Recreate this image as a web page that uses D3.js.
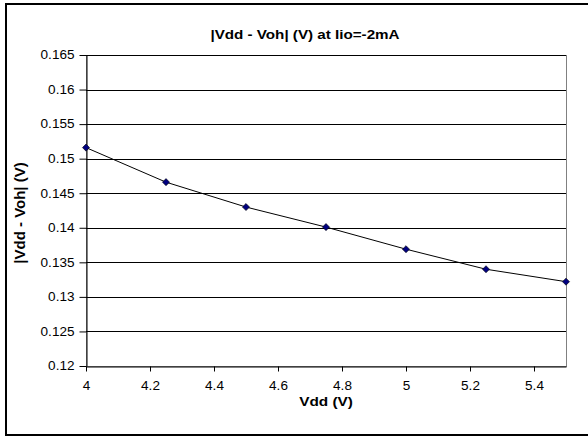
<!DOCTYPE html>
<html lang="en">
<head>
<meta charset="UTF-8">
<title>Vdd - Voh</title>
<script src="https://cdn.jsdelivr.net/npm/d3@7"></script>
<style>
  body { margin: 0; background: #fff; overflow: hidden; }
  text { font-family: "Liberation Sans", Arial, sans-serif; }
</style>
</head>
<body>
<svg id="chart" width="588" height="437"></svg>
<script>
    // data
    const vdd = [4, 4.25, 4.5, 4.75, 5, 5.25, 5.5];
    const dv = [0.1516, 0.1466, 0.1430, 0.1401, 0.1369, 0.1340, 0.1322];
    const xTicks = [4, 4.2, 4.4, 4.6, 4.8, 5, 5.2, 5.4];
    const yTicks = [0.12, 0.125, 0.13, 0.135, 0.14, 0.145, 0.15, 0.155, 0.16, 0.165];

    const svg = d3.select("#chart");
    const plot = {left: 86, right: 566, top: 55, bottom: 366};
    const sx = 1.13; // the original text is a bit wide

    const x = d3.scaleLinear().domain([4, 5.5]).range([plot.left, plot.right]);
    const y = d3.scaleLinear().domain([0.12, 0.165]).range([plot.bottom, plot.top]);

    // outer frame (right edge runs off the picture)
    svg.append("rect")
        .attr("x", 6).attr("y", 4).attr("width", 600).attr("height", 431)
        .attr("fill", "#fff").attr("stroke", "#000").attr("stroke-width", 2);

    // plot area
    svg.append("rect")
        .attr("x", plot.left + 0.5).attr("y", plot.top + 0.5)
        .attr("width", plot.right - plot.left).attr("height", plot.bottom - plot.top)
        .attr("fill", "#fff").attr("stroke", "#808080").attr("stroke-width", 1);

    // gridlines
    svg.append("g")
        .selectAll("line")
        .data(yTicks.filter(d => d > 0.12))
        .join("line")
        .attr("x1", plot.left).attr("x2", plot.right)
        .attr("y1", d => Math.round(y(d)) + 0.5).attr("y2", d => Math.round(y(d)) + 0.5)
        .attr("stroke", "#000").attr("stroke-width", 1);

    // axes
    const yAxis = svg.append("g")
        .attr("transform", `translate(${plot.left + 0.5},0)`)
        .call(d3.axisLeft(y).tickValues(yTicks).tickFormat(d => +d.toFixed(3)).tickSize(7).tickSizeOuter(0));
    const xAxis = svg.append("g")
        .attr("transform", `translate(0,${plot.bottom + 0.5})`)
        .call(d3.axisBottom(x).tickValues(xTicks).tickFormat(d => +d.toFixed(1)).tickSize(5).tickSizeOuter(0));

    [xAxis, yAxis].forEach(function (a) {
        a.select(".domain").attr("stroke", "#000");
        a.selectAll(".tick line").attr("stroke", "#000");
        a.selectAll(".tick text")
            .attr("font-size", 12)
            .attr("fill", "#000")
            .attr("transform", `scale(${sx},1)`)
            .style("font-family", "'Liberation Sans', Arial, sans-serif");
    });
    yAxis.selectAll(".tick text").attr("x", -12 / sx);
    xAxis.selectAll(".tick text").attr("y", 15);

    // series line
    svg.append("path")
        .datum(vdd.map((v, i) => [v, dv[i]]))
        .attr("fill", "none")
        .attr("stroke", "#000")
        .attr("stroke-width", 1)
        .attr("d", d3.line().x(d => x(d[0])).y(d => y(d[1])));

    // diamond markers
    svg.append("g")
        .selectAll("path")
        .data(vdd.map((v, i) => [v, dv[i]]))
        .join("path")
        .attr("transform", d => `translate(${x(d[0])},${y(d[1])})`)
        .attr("d", d3.symbol().type(d3.symbolDiamond2).size(32))
        .attr("fill", "#000080")
        .attr("stroke", "#000")
        .attr("stroke-width", 0.6);

    // titles
    svg.append("text")
        .attr("transform", "translate(305,39) scale(1.17,1)")
        .attr("text-anchor", "middle")
        .attr("font-size", 13).attr("font-weight", "bold")
        .text("|Vdd - Voh| (V) at Iio=-2mA");

    svg.append("text")
        .attr("transform", "translate(326,406) scale(1.18,1)")
        .attr("text-anchor", "middle")
        .attr("font-size", 13).attr("font-weight", "bold")
        .text("Vdd (V)");

    svg.append("text")
        .attr("transform", "translate(25,213) rotate(-90)")
        .attr("text-anchor", "middle")
        .attr("font-size", 15).attr("font-weight", "bold")
        .text("|Vdd - Voh| (V)");
</script>
</body>
</html>
